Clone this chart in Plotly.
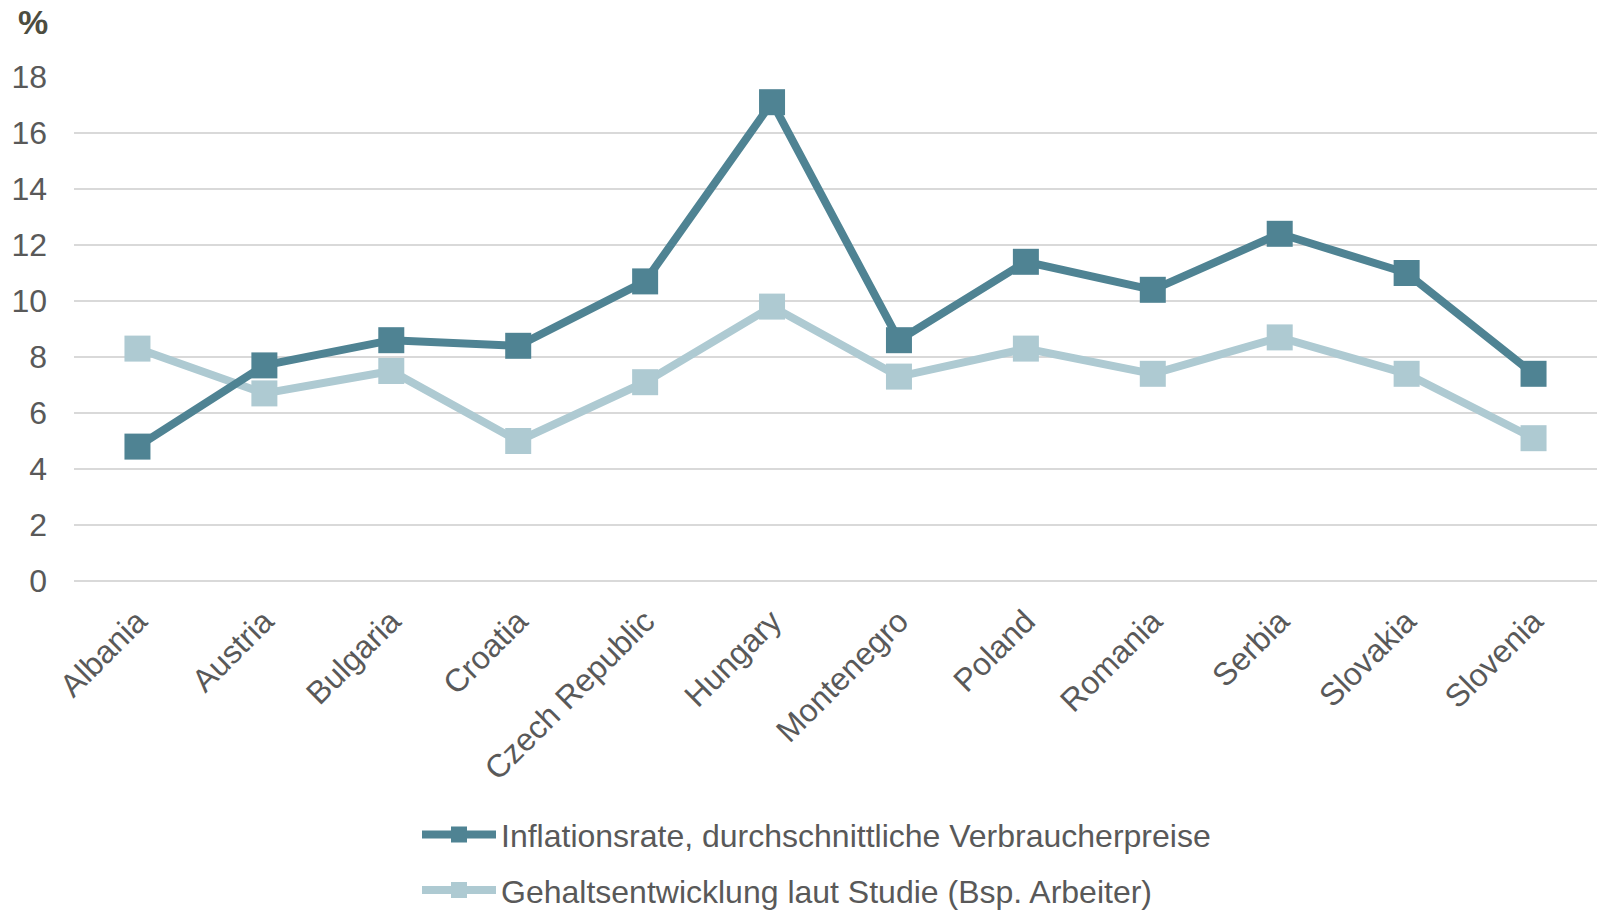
import plotly.graph_objects as go

countries = ["Albania", "Austria", "Bulgaria", "Croatia", "Czech Republic", "Hungary",
             "Montenegro", "Poland", "Romania", "Serbia", "Slovakia", "Slovenia"]
inflation = [4.8, 7.7, 8.6, 8.4, 10.7, 17.1, 8.6, 11.4, 10.4, 12.4, 11.0, 7.4]
wages = [8.3, 6.7, 7.5, 5.0, 7.1, 9.8, 7.3, 8.3, 7.4, 8.7, 7.4, 5.1]
y_ticks = [0, 2, 4, 6, 8, 10, 12, 14, 16, 18]

name_infl = "Inflationsrate, durchschnittliche Verbraucherpreise"
name_wage = "Gehaltsentwicklung laut Studie (Bsp. Arbeiter)"

dark = "#4f8393"
light = "#aecad2"
font_family = "Liberation Sans, Arial, sans-serif"
txt = "#595959"

W, H = 1597, 930
L, T = 74, 77
B = H - 581.5

fig = go.Figure()
fig.add_trace(go.Scatter(x=countries, y=wages, name=name_wage, mode="lines+markers",
                         line=dict(color=light, width=8),
                         marker=dict(symbol="square", size=26, color=light),
                         legendgroup="b", legendrank=2))
fig.add_trace(go.Scatter(x=countries, y=inflation, name=name_infl, mode="lines+markers",
                         line=dict(color=dark, width=8),
                         marker=dict(symbol="square", size=26, color=dark),
                         legendgroup="a", legendrank=1))

plot_w = W - L
plot_h = H - T - B

fig.update_layout(
    width=W, height=H,
    margin=dict(l=L, r=0, t=T, b=B),
    paper_bgcolor="white", plot_bgcolor="white",
    font=dict(family=font_family, size=32, color=txt),
    showlegend=True,
    legend=dict(orientation="v", x=(417 - L) / plot_w, xanchor="left",
                y=(H - B - 919) / plot_h, yanchor="bottom",
                font=dict(size=32, color=txt), tracegroupgap=11,
                itemwidth=74, bgcolor="rgba(0,0,0,0)"),
    xaxis=dict(type="category", range=[-0.5, 11.5], showgrid=False, showline=False,
               zeroline=False, tickangle=-45, ticks="", tickfont=dict(size=32, color=txt),
               ticklabelstandoff=14),
    yaxis=dict(range=[0, 18], tickvals=y_ticks, showgrid=True, gridcolor="#d9d9d9",
               gridwidth=2, zeroline=True, zerolinecolor="#d9d9d9", zerolinewidth=2,
               showline=False, ticks="", tickfont=dict(size=32, color=txt),
               ticklabelstandoff=26),
    annotations=[dict(text="<b>%</b>", x=(32.5 - L) / plot_w, y=(H - B - 1) / plot_h,
                      xref="paper", yref="paper", xanchor="center", yanchor="top",
                      showarrow=False, font=dict(size=34, color="#4d4d40"))],
)

fig.write_html("out.html", config={"displayModeBar": False},
               post_script="document.body.style.margin='0';document.body.style.overflow='hidden';")
